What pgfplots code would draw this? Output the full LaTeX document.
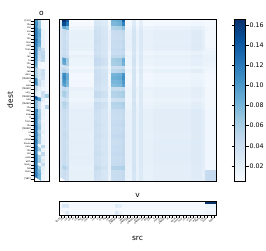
\documentclass[border=0pt]{standalone}
\usepackage{fontspec}
\setmainfont{DejaVu Sans}
\usepackage{pgfplots}
\pgfplotsset{compat=1.18}
\pgfplotsset{colormap={blues}{rgb255=(247,251,255) rgb255=(222,235,247) rgb255=(198,219,239) rgb255=(158,202,225) rgb255=(107,174,214) rgb255=(66,146,198) rgb255=(33,113,181) rgb255=(8,81,156) rgb255=(8,48,107)}}
\newcommand\tkfont{\fontsize{2.3}{2.6}\selectfont}
\newcommand\lbfont{\fontsize{7.5}{8}\selectfont}
\pgfplotsset{
  every axis title shift=0pt,
  hm/.style={scale only axis, anchor=south west, enlargelimits=false, axis on top,
    colormap name=blues, point meta min=5, point meta max=166,
    axis line style={black, line width=0.6pt},
    tick style={black, line width=0.35pt}, tick align=outside, major tick length=2.5pt,
    title style={font=\lbfont, inner sep=0pt, at={(0.5,1)}, anchor=south, yshift=3.5pt},
    label style={font=\lbfont}},
  destlabels/.style={yticklabels={{[CLS]},the,cat,sat,on,the,mat,and,then,it,ran,to,the,big,red,door,{[MASK]},it,was,{[MASK]},very,{[MASK]},and,{[MASK]},the,dog,saw,it,from,the,{[MASK]},of,a,small,house,near,the,old,park,with,many,tall,trees,.,{[SEP]}}},
  srclabels/.style={xticklabels={{[CLS]},the,cat,sat,on,the,mat,and,then,it,ran,to,the,big,red,door,{[MASK]},it,was,{[MASK]},very,{[MASK]},and,{[MASK]},the,dog,saw,it,from,the,{[MASK]},of,a,small,house,near,the,old,park,with,many,tall,trees,.,{[SEP]}}}
}
\begin{document}
\begin{tikzpicture}
\path[use as bounding box] (0,0) rectangle (266pt,250pt);
% ---------------- o ----------------
\begin{axis}[hm, at={(34pt,69pt)}, width=15pt, height=162pt,
  xmin=-0.5, xmax=3.5, ymin=-0.5, ymax=44.5, y dir=reverse,
  xtick=\empty, ytick={0,...,44}, ytick pos=left, destlabels,
  yticklabel style={font=\tkfont, inner sep=0.6pt},
  title={o}, ylabel={dest},
  ylabel style={at={(axis description cs:-1.6,0.5)}, anchor=center}]
\addplot[matrix plot*, mesh/cols=4, point meta=explicit] table[row sep=\\, x expr={mod(\coordindex,4)}, y expr={floor(\coordindex/4)}, meta=c] {
c\\
100\\ 62\\ 6\\ 5\\
106\\ 66\\ 7\\ 5\\
110\\ 70\\ 8\\ 5\\
120\\ 88\\ 14\\ 7\\
122\\ 92\\ 15\\ 7\\
118\\ 86\\ 14\\ 8\\
124\\ 90\\ 16\\ 7\\
120\\ 84\\ 14\\ 7\\
112\\ 60\\ 40\\ 8\\
110\\ 45\\ 50\\ 8\\
108\\ 40\\ 52\\ 8\\
104\\ 38\\ 48\\ 8\\
92\\ 12\\ 8\\ 6\\
88\\ 10\\ 7\\ 6\\
60\\ 28\\ 40\\ 8\\
58\\ 30\\ 42\\ 8\\
62\\ 28\\ 38\\ 7\\
110\\ 40\\ 20\\ 7\\
112\\ 42\\ 18\\ 7\\
50\\ 20\\ 10\\ 6\\
28\\ 14\\ 40\\ 12\\
24\\ 12\\ 38\\ 60\\
140\\ 100\\ 20\\ 8\\
80\\ 40\\ 10\\ 8\\
78\\ 38\\ 12\\ 52\\
110\\ 60\\ 14\\ 8\\
112\\ 62\\ 16\\ 8\\
118\\ 66\\ 12\\ 7\\
120\\ 56\\ 10\\ 7\\
116\\ 64\\ 14\\ 7\\
122\\ 70\\ 12\\ 7\\
118\\ 52\\ 18\\ 8\\
120\\ 66\\ 10\\ 7\\
116\\ 58\\ 14\\ 7\\
122\\ 62\\ 12\\ 7\\
114\\ 10\\ 50\\ 8\\
120\\ 64\\ 14\\ 7\\
112\\ 10\\ 48\\ 8\\
118\\ 60\\ 16\\ 7\\
120\\ 62\\ 24\\ 8\\
116\\ 12\\ 44\\ 8\\
120\\ 66\\ 18\\ 7\\
118\\ 80\\ 14\\ 7\\
122\\ 86\\ 12\\ 7\\
120\\ 82\\ 12\\ 7\\
};
\end{axis}
% ---------------- main ----------------
\begin{axis}[hm, at={(59pt,69pt)}, width=157pt, height=162pt,
  xmin=-0.5, xmax=44.5, ymin=-0.5, ymax=44.5, y dir=reverse,
  xtick=\empty, ytick=\empty,
  colorbar,
  colorbar style={scale only axis, at={(parent axis.north east)}, anchor=north west,
    xshift=10pt, width=11pt, axis on top,
    axis line style={black, line width=0.6pt},
    tick style={black, line width=0.35pt}, tick align=outside, major tick length=3pt,
    ytick={20,40,60,80,100,120,140,160},
    yticklabels={0.02,0.04,0.06,0.08,0.10,0.12,0.14,0.16},
    yticklabel style={font=\fontsize{6.3}{7}\selectfont, inner sep=1pt}}]
\addplot[matrix plot*, mesh/cols=45, point meta=explicit] table[row sep=\\, x expr={mod(\coordindex,45)}, y expr={floor(\coordindex/45)}, meta=c] {
c\\
28\\ 166\\ 138\\  6\\ 6\\ 6\\ 6\\ 6\\ 6\\ 6\\  30\\ 30\\ 26\\ 25\\  8\\  82\\ 84\\ 88\\ 132\\  8\\ 8\\  25\\  8\\  20\\
7\\ 7\\ 7\\  8\\ 8\\ 8\\ 8\\ 8\\  8\\ 8\\ 8\\ 8\\ 8\\ 8\\  10\\ 10\\ 10\\  8\\  8\\ 8\\ 8\\
28\\ 150\\ 122\\  7\\ 7\\ 7\\ 7\\ 7\\ 7\\ 7\\  31\\ 30\\ 27\\ 26\\  9\\  78\\ 80\\ 84\\ 115\\  9\\ 9\\  26\\  9\\  21\\
8\\ 8\\ 8\\  9\\ 9\\ 9\\ 9\\ 9\\  9\\ 9\\ 9\\ 9\\ 9\\ 9\\  11\\ 11\\ 11\\  9\\  8\\ 8\\ 8\\
30\\ 92\\ 78\\  12\\ 12\\ 12\\ 12\\ 12\\ 12\\ 12\\  36\\ 35\\ 30\\ 29\\  12\\  56\\ 58\\ 60\\ 72\\  12\\ 12\\  30\\  12\\  24\\
14\\ 14\\ 14\\  16\\ 16\\ 16\\ 16\\ 16\\  16\\ 16\\ 16\\ 16\\ 16\\ 16\\  20\\ 20\\ 20\\  16\\  10\\ 10\\ 10\\
34\\ 44\\ 38\\  18\\ 18\\ 18\\ 18\\ 18\\ 18\\ 18\\  40\\ 38\\ 33\\ 32\\  16\\  44\\ 45\\ 45\\ 50\\  16\\ 16\\  34\\  17\\  28\\
17\\ 17\\ 18\\  20\\ 20\\ 20\\ 20\\ 20\\  20\\ 20\\ 20\\ 20\\ 20\\ 20\\  24\\ 25\\ 24\\  20\\  11\\ 10\\ 10\\
33\\ 42\\ 36\\  19\\ 19\\ 19\\ 19\\ 19\\ 18\\ 18\\  39\\ 38\\ 33\\ 32\\  16\\  42\\ 43\\ 44\\ 47\\  16\\ 16\\  33\\  17\\  28\\
17\\ 17\\ 18\\  21\\ 21\\ 21\\ 21\\ 21\\  21\\ 21\\ 21\\ 21\\ 21\\ 21\\  25\\ 25\\ 25\\  20\\  10\\ 10\\ 10\\
34\\ 40\\ 35\\  19\\ 19\\ 19\\ 19\\ 19\\ 19\\ 18\\  40\\ 39\\ 34\\ 33\\  17\\  41\\ 42\\ 43\\ 46\\  17\\ 17\\  34\\  17\\  29\\
18\\ 18\\ 18\\  21\\ 21\\ 21\\ 21\\ 21\\  21\\ 21\\ 21\\ 21\\ 21\\ 21\\  25\\ 25\\ 25\\  21\\  10\\ 10\\ 10\\
35\\ 43\\ 37\\  18\\ 18\\ 18\\ 18\\ 18\\ 18\\ 18\\  41\\ 39\\ 33\\ 32\\  16\\  44\\ 44\\ 45\\ 49\\  16\\ 16\\  34\\  16\\  28\\
17\\ 17\\ 17\\  20\\ 20\\ 20\\ 20\\ 20\\  20\\ 20\\ 20\\ 20\\ 20\\ 20\\  24\\ 24\\ 24\\  20\\  10\\ 10\\ 10\\
34\\ 41\\ 36\\  19\\ 19\\ 19\\ 19\\ 19\\ 19\\ 19\\  39\\ 38\\ 33\\ 32\\  16\\  42\\ 43\\ 43\\ 47\\  17\\ 17\\  33\\  17\\  28\\
18\\ 18\\ 18\\  21\\ 21\\ 21\\ 21\\ 21\\  21\\ 21\\ 21\\ 21\\ 21\\ 21\\  25\\ 25\\ 25\\  21\\  10\\ 10\\ 10\\
33\\ 44\\ 38\\  18\\ 18\\ 18\\ 18\\ 18\\ 18\\ 18\\  40\\ 38\\ 33\\ 32\\  16\\  45\\ 45\\ 46\\ 50\\  16\\ 16\\  34\\  16\\  28\\
17\\ 17\\ 17\\  20\\ 20\\ 20\\ 20\\ 20\\  20\\ 20\\ 20\\ 20\\ 20\\ 20\\  24\\ 24\\ 24\\  20\\  12\\ 12\\ 12\\
32\\ 40\\ 35\\  12\\ 12\\ 12\\ 12\\ 12\\ 12\\ 12\\  38\\ 37\\ 32\\ 31\\  12\\  42\\ 43\\ 43\\ 46\\  12\\ 12\\  32\\  13\\  26\\
12\\ 12\\ 12\\  14\\ 14\\ 14\\ 14\\ 14\\  14\\ 14\\ 14\\ 14\\ 14\\ 14\\  17\\ 17\\ 17\\  14\\  14\\ 14\\ 14\\
34\\ 46\\ 40\\  17\\ 17\\ 17\\ 17\\ 17\\ 17\\ 17\\  42\\ 40\\ 34\\ 33\\  15\\  48\\ 48\\ 49\\ 55\\  15\\ 15\\  34\\  16\\  28\\
16\\ 16\\ 16\\  19\\ 19\\ 19\\ 19\\ 19\\  19\\ 19\\ 19\\ 19\\ 19\\ 19\\  23\\ 23\\ 23\\  19\\  16\\ 16\\ 16\\
34\\ 96\\ 62\\  14\\ 14\\ 14\\ 14\\ 14\\ 14\\ 14\\  46\\ 45\\ 40\\ 38\\  13\\  62\\ 64\\ 66\\ 86\\  13\\ 13\\  36\\  14\\  28\\
14\\ 14\\ 14\\  16\\ 16\\ 16\\ 16\\ 16\\  16\\ 16\\ 16\\ 16\\ 16\\ 16\\  20\\ 20\\ 20\\  16\\  16\\ 16\\ 16\\
34\\ 90\\ 58\\  14\\ 14\\ 14\\ 14\\ 14\\ 14\\ 14\\  45\\ 44\\ 39\\ 37\\  13\\  60\\ 62\\ 64\\ 82\\  13\\ 13\\  35\\  14\\  28\\
14\\ 14\\ 14\\  16\\ 16\\ 16\\ 16\\ 16\\  16\\ 16\\ 16\\ 16\\ 16\\ 16\\  20\\ 20\\ 20\\  16\\  15\\ 15\\ 15\\
30\\ 38\\ 34\\  10\\ 10\\ 10\\ 10\\ 10\\ 10\\ 10\\  34\\ 33\\ 28\\ 27\\  10\\  40\\ 40\\ 41\\ 44\\  10\\ 10\\  30\\  11\\  24\\
11\\ 11\\ 11\\  12\\ 12\\ 12\\ 12\\ 12\\  12\\ 12\\ 12\\ 12\\ 12\\ 12\\  15\\ 15\\ 15\\  12\\  12\\ 12\\ 12\\
34\\ 52\\ 44\\  15\\ 15\\ 15\\ 15\\ 15\\ 15\\ 15\\  40\\ 39\\ 34\\ 33\\  14\\  50\\ 50\\ 52\\ 58\\  14\\ 14\\  34\\  15\\  28\\
15\\ 15\\ 15\\  18\\ 18\\ 18\\ 18\\ 18\\  18\\ 18\\ 18\\ 18\\ 18\\ 18\\  22\\ 22\\ 22\\  18\\  11\\ 11\\ 11\\
38\\ 108\\ 84\\  9\\ 9\\ 9\\ 9\\ 9\\ 9\\ 9\\  40\\ 39\\ 36\\ 35\\  10\\  80\\ 82\\ 84\\ 102\\  10\\ 10\\  34\\  11\\  26\\
10\\ 10\\ 10\\  12\\ 12\\ 12\\ 12\\ 12\\  12\\ 12\\ 12\\ 12\\ 12\\ 12\\  15\\ 15\\ 15\\  12\\  9\\ 9\\ 9\\
38\\ 112\\ 86\\  9\\ 9\\ 9\\ 9\\ 9\\ 9\\ 9\\  41\\ 40\\ 36\\ 35\\  10\\  84\\ 85\\ 88\\ 106\\  10\\ 10\\  34\\  11\\  26\\
10\\ 10\\ 10\\  12\\ 12\\ 12\\ 12\\ 12\\  12\\ 12\\ 12\\ 12\\ 12\\ 12\\  15\\ 15\\ 15\\  12\\  9\\ 9\\ 9\\
37\\ 104\\ 80\\  10\\ 10\\ 10\\ 10\\ 10\\ 10\\ 10\\  40\\ 39\\ 35\\ 34\\  10\\  80\\ 80\\ 83\\ 100\\  10\\ 10\\  33\\  11\\  26\\
11\\ 11\\ 11\\  13\\ 13\\ 13\\ 13\\ 13\\  13\\ 13\\ 13\\ 13\\ 13\\ 13\\  16\\ 16\\ 16\\  13\\  9\\ 9\\ 9\\
37\\ 96\\ 76\\  10\\ 10\\ 10\\ 10\\ 10\\ 10\\ 10\\  39\\ 38\\ 34\\ 33\\  11\\  74\\ 76\\ 78\\ 94\\  11\\ 11\\  33\\  12\\  26\\
11\\ 11\\ 11\\  13\\ 13\\ 13\\ 13\\ 13\\  13\\ 13\\ 13\\ 13\\ 13\\ 13\\  16\\ 16\\ 16\\  13\\  9\\ 9\\ 9\\
34\\ 46\\ 40\\  17\\ 17\\ 17\\ 17\\ 17\\ 17\\ 17\\  38\\ 37\\ 32\\ 31\\  15\\  44\\ 44\\ 45\\ 48\\  15\\ 15\\  33\\  16\\  27\\
16\\ 16\\ 16\\  18\\ 18\\ 18\\ 18\\ 18\\  18\\ 18\\ 18\\ 18\\ 18\\ 18\\  22\\ 22\\ 22\\  18\\  10\\ 10\\ 10\\
34\\ 62\\ 48\\  14\\ 14\\ 14\\ 14\\ 14\\ 14\\ 14\\  46\\ 45\\ 40\\ 38\\  13\\  55\\ 56\\ 58\\ 62\\  13\\ 13\\  35\\  14\\  28\\
14\\ 14\\ 14\\  17\\ 17\\ 17\\ 17\\ 17\\  17\\ 17\\ 17\\ 17\\ 17\\ 17\\  21\\ 21\\ 21\\  17\\  10\\ 10\\ 10\\
34\\ 60\\ 46\\  14\\ 14\\ 14\\ 14\\ 14\\ 14\\ 14\\  46\\ 44\\ 39\\ 38\\  13\\  54\\ 55\\ 57\\ 60\\  13\\ 13\\  35\\  14\\  28\\
14\\ 14\\ 14\\  17\\ 17\\ 17\\ 17\\ 17\\  17\\ 17\\ 17\\ 17\\ 17\\ 17\\  21\\ 21\\ 21\\  17\\  10\\ 10\\ 10\\
30\\ 38\\ 34\\  12\\ 12\\ 12\\ 12\\ 12\\ 12\\ 12\\  34\\ 33\\ 29\\ 28\\  12\\  38\\ 39\\ 40\\ 42\\  12\\ 12\\  30\\  12\\  25\\
12\\ 12\\ 12\\  14\\ 14\\ 14\\ 14\\ 14\\  14\\ 14\\ 14\\ 14\\ 14\\ 14\\  17\\ 17\\ 17\\  14\\  10\\ 10\\ 10\\
34\\ 56\\ 46\\  16\\ 16\\ 16\\ 16\\ 16\\ 16\\ 16\\  44\\ 43\\ 38\\ 36\\  14\\  54\\ 55\\ 56\\ 60\\  14\\ 14\\  35\\  15\\  28\\
15\\ 15\\ 15\\  18\\ 18\\ 18\\ 18\\ 18\\  18\\ 18\\ 18\\ 18\\ 18\\ 18\\  22\\ 22\\ 22\\  18\\  10\\ 10\\ 10\\
34\\ 52\\ 44\\  17\\ 17\\ 17\\ 17\\ 17\\ 17\\ 17\\  43\\ 42\\ 37\\ 35\\  15\\  52\\ 52\\ 54\\ 57\\  15\\ 15\\  34\\  16\\  28\\
16\\ 16\\ 16\\  19\\ 19\\ 19\\ 19\\ 19\\  19\\ 19\\ 19\\ 19\\ 19\\ 19\\  23\\ 23\\ 23\\  19\\  10\\ 10\\ 10\\
35\\ 44\\ 38\\  21\\ 21\\ 21\\ 21\\ 21\\ 21\\ 21\\  40\\ 39\\ 33\\ 32\\  18\\  44\\ 45\\ 45\\ 48\\  18\\ 18\\  34\\  18\\  28\\
19\\ 19\\ 19\\  22\\ 22\\ 22\\ 22\\ 22\\  22\\ 22\\ 22\\ 22\\ 22\\ 22\\  26\\ 26\\ 26\\  22\\  11\\ 11\\ 11\\
35\\ 42\\ 37\\  20\\ 20\\ 20\\ 20\\ 20\\ 20\\ 20\\  39\\ 38\\ 33\\ 32\\  17\\  43\\ 44\\ 44\\ 47\\  17\\ 17\\  33\\  18\\  28\\
19\\ 19\\ 19\\  22\\ 22\\ 22\\ 22\\ 22\\  22\\ 22\\ 22\\ 22\\ 22\\ 22\\  25\\ 25\\ 25\\  22\\  11\\ 11\\ 11\\
34\\ 40\\ 36\\  20\\ 20\\ 20\\ 20\\ 20\\ 20\\ 20\\  38\\ 37\\ 33\\ 32\\  17\\  42\\ 42\\ 43\\ 46\\  17\\ 17\\  33\\  18\\  28\\
19\\ 19\\ 19\\  22\\ 22\\ 22\\ 22\\ 22\\  22\\ 22\\ 22\\ 22\\ 22\\ 22\\  25\\ 25\\ 25\\  22\\  11\\ 11\\ 11\\
35\\ 43\\ 38\\  20\\ 20\\ 20\\ 20\\ 20\\ 20\\ 20\\  40\\ 38\\ 33\\ 32\\  17\\  44\\ 44\\ 45\\ 48\\  17\\ 17\\  34\\  18\\  28\\
19\\ 19\\ 19\\  22\\ 22\\ 22\\ 22\\ 22\\  22\\ 22\\ 22\\ 22\\ 22\\ 22\\  25\\ 25\\ 25\\  22\\  11\\ 11\\ 11\\
35\\ 44\\ 38\\  20\\ 20\\ 20\\ 20\\ 20\\ 20\\ 20\\  41\\ 39\\ 34\\ 33\\  17\\  45\\ 45\\ 46\\ 49\\  17\\ 17\\  34\\  18\\  29\\
19\\ 19\\ 19\\  22\\ 22\\ 22\\ 22\\ 22\\  22\\ 22\\ 22\\ 22\\ 22\\ 22\\  26\\ 26\\ 26\\  22\\  11\\ 11\\ 11\\
34\\ 41\\ 36\\  21\\ 21\\ 21\\ 21\\ 21\\ 21\\ 21\\  39\\ 38\\ 33\\ 32\\  18\\  42\\ 43\\ 43\\ 46\\  18\\ 18\\  33\\  18\\  28\\
19\\ 19\\ 19\\  22\\ 22\\ 22\\ 22\\ 22\\  22\\ 22\\ 22\\ 22\\ 22\\ 22\\  25\\ 25\\ 25\\  22\\  11\\ 11\\ 11\\
35\\ 42\\ 37\\  20\\ 20\\ 20\\ 20\\ 20\\ 20\\ 20\\  39\\ 38\\ 33\\ 32\\  17\\  43\\ 44\\ 44\\ 47\\  17\\ 17\\  33\\  18\\  28\\
19\\ 19\\ 19\\  22\\ 22\\ 22\\ 22\\ 22\\  22\\ 22\\ 22\\ 22\\ 22\\ 22\\  25\\ 25\\ 25\\  22\\  11\\ 11\\ 11\\
35\\ 45\\ 39\\  19\\ 19\\ 19\\ 19\\ 19\\ 19\\ 19\\  41\\ 40\\ 34\\ 33\\  17\\  46\\ 46\\ 47\\ 50\\  17\\ 17\\  34\\  17\\  28\\
18\\ 18\\ 18\\  21\\ 21\\ 21\\ 21\\ 21\\  21\\ 21\\ 21\\ 21\\ 21\\ 21\\  25\\ 25\\ 25\\  21\\  11\\ 11\\ 11\\
34\\ 42\\ 37\\  20\\ 20\\ 20\\ 20\\ 20\\ 20\\ 20\\  39\\ 38\\ 33\\ 32\\  17\\  43\\ 44\\ 44\\ 47\\  17\\ 17\\  33\\  18\\  28\\
19\\ 19\\ 19\\  22\\ 22\\ 22\\ 22\\ 22\\  22\\ 22\\ 22\\ 22\\ 22\\ 22\\  25\\ 25\\ 25\\  22\\  11\\ 11\\ 11\\
35\\ 41\\ 36\\  21\\ 21\\ 21\\ 21\\ 21\\ 21\\ 21\\  38\\ 37\\ 32\\ 31\\  18\\  42\\ 42\\ 43\\ 46\\  18\\ 18\\  33\\  18\\  28\\
19\\ 19\\ 19\\  23\\ 23\\ 23\\ 23\\ 23\\  23\\ 23\\ 23\\ 23\\ 23\\ 23\\  26\\ 26\\ 26\\  23\\  11\\ 11\\ 11\\
35\\ 43\\ 38\\  20\\ 20\\ 20\\ 20\\ 20\\ 20\\ 20\\  40\\ 39\\ 33\\ 32\\  17\\  44\\ 45\\ 45\\ 48\\  17\\ 17\\  34\\  18\\  28\\
19\\ 19\\ 19\\  22\\ 22\\ 22\\ 22\\ 22\\  22\\ 22\\ 22\\ 22\\ 22\\ 22\\  25\\ 25\\ 25\\  22\\  11\\ 11\\ 11\\
34\\ 42\\ 37\\  20\\ 20\\ 20\\ 20\\ 20\\ 20\\ 20\\  39\\ 38\\ 33\\ 32\\  17\\  43\\ 44\\ 44\\ 47\\  17\\ 17\\  33\\  18\\  28\\
19\\ 19\\ 19\\  22\\ 22\\ 22\\ 22\\ 22\\  22\\ 22\\ 22\\ 22\\ 22\\ 22\\  25\\ 25\\ 25\\  22\\  11\\ 11\\ 11\\
35\\ 44\\ 38\\  20\\ 20\\ 20\\ 20\\ 20\\ 20\\ 20\\  40\\ 39\\ 34\\ 33\\  17\\  45\\ 45\\ 46\\ 49\\  17\\ 17\\  34\\  18\\  28\\
19\\ 19\\ 19\\  22\\ 22\\ 22\\ 22\\ 22\\  22\\ 22\\ 22\\ 22\\ 22\\ 22\\  25\\ 25\\ 25\\  22\\  11\\ 11\\ 11\\
34\\ 41\\ 36\\  21\\ 21\\ 21\\ 21\\ 21\\ 21\\ 21\\  38\\ 37\\ 33\\ 32\\  18\\  42\\ 43\\ 43\\ 46\\  18\\ 18\\  33\\  18\\  28\\
19\\ 19\\ 19\\  23\\ 23\\ 23\\ 23\\ 23\\  23\\ 23\\ 23\\ 23\\ 23\\ 23\\  26\\ 26\\ 26\\  23\\  11\\ 11\\ 11\\
35\\ 42\\ 37\\  20\\ 20\\ 20\\ 20\\ 20\\ 20\\ 20\\  39\\ 38\\ 33\\ 32\\  17\\  43\\ 44\\ 44\\ 47\\  17\\ 17\\  33\\  18\\  28\\
19\\ 19\\ 19\\  22\\ 22\\ 22\\ 22\\ 22\\  22\\ 22\\ 22\\ 22\\ 22\\ 22\\  25\\ 25\\ 25\\  22\\  11\\ 11\\ 11\\
35\\ 43\\ 37\\  20\\ 20\\ 20\\ 20\\ 20\\ 20\\ 20\\  40\\ 38\\ 33\\ 32\\  17\\  44\\ 44\\ 45\\ 48\\  17\\ 17\\  34\\  18\\  28\\
19\\ 19\\ 19\\  22\\ 22\\ 22\\ 22\\ 22\\  22\\ 22\\ 22\\ 22\\ 22\\ 22\\  25\\ 25\\ 25\\  22\\  11\\ 11\\ 11\\
35\\ 56\\ 44\\  18\\ 18\\ 18\\ 18\\ 18\\ 18\\ 18\\  46\\ 44\\ 36\\ 35\\  16\\  54\\ 55\\ 56\\ 58\\  16\\ 16\\  35\\  17\\  28\\
18\\ 18\\ 18\\  21\\ 21\\ 21\\ 21\\ 21\\  21\\ 21\\ 21\\ 21\\ 21\\ 21\\  24\\ 24\\ 24\\  21\\  11\\ 11\\ 11\\
35\\ 42\\ 37\\  19\\ 19\\ 19\\ 19\\ 19\\ 19\\ 19\\  39\\ 38\\ 33\\ 32\\  16\\  43\\ 44\\ 44\\ 47\\  16\\ 16\\  33\\  17\\  27\\
18\\ 18\\ 18\\  21\\ 21\\ 21\\ 21\\ 21\\  21\\ 21\\ 21\\ 21\\ 21\\ 21\\  24\\ 24\\ 24\\  21\\  44\\ 46\\ 46\\
35\\ 42\\ 37\\  19\\ 19\\ 19\\ 19\\ 19\\ 19\\ 19\\  39\\ 38\\ 33\\ 32\\  16\\  43\\ 44\\ 44\\ 47\\  16\\ 16\\  33\\  17\\  27\\
18\\ 18\\ 18\\  21\\ 21\\ 21\\ 21\\ 21\\  21\\ 21\\ 21\\ 21\\ 21\\ 21\\  24\\ 24\\ 24\\  21\\  45\\ 47\\ 47\\
34\\ 41\\ 36\\  19\\ 19\\ 19\\ 19\\ 19\\ 19\\ 19\\  38\\ 37\\ 33\\ 32\\  16\\  42\\ 43\\ 43\\ 46\\  16\\ 16\\  33\\  17\\  27\\
18\\ 18\\ 18\\  21\\ 21\\ 21\\ 21\\ 21\\  21\\ 21\\ 21\\ 21\\ 21\\ 21\\  24\\ 24\\ 24\\  21\\  44\\ 46\\ 46\\
};
\end{axis}
% ---------------- v ----------------
\begin{axis}[hm, at={(59pt,35pt)}, width=157pt, height=14pt,
  xmin=-0.5, xmax=44.5, ymin=-0.5, ymax=3.5, y dir=reverse,
  ytick=\empty, xtick={0,...,44}, xtick pos=bottom, srclabels,
  xticklabel style={rotate=45, anchor=east, font=\tkfont, inner sep=0.5pt},
  title={v}, xlabel={src},
  xlabel style={at={(axis description cs:0.5,-1.64)}, anchor=center}]
\addplot[matrix plot*, mesh/cols=45, point meta=explicit] table[row sep=\\, x expr={mod(\coordindex,45)}, y expr={floor(\coordindex/45)}, meta=c] {
c\\
8\\ 9\\ 9\\  6\\ 6\\ 6\\ 6\\ 6\\ 6\\ 6\\ 6\\ 6\\ 6\\ 6\\ 6\\  8\\ 8\\ 8\\ 8\\
6\\ 6\\ 6\\ 6\\ 6\\ 6\\ 6\\ 6\\ 6\\ 6\\  6\\ 6\\ 6\\ 6\\ 6\\ 6\\ 6\\ 6\\ 6\\ 6\\  6\\ 6\\ 6\\  166\\ 166\\ 166\\
10\\ 30\\ 28\\  9\\ 9\\ 9\\ 9\\ 9\\ 9\\ 9\\ 9\\ 9\\ 9\\ 9\\ 9\\ 9\\  24\\ 20\\
9\\ 9\\ 9\\ 9\\ 9\\ 9\\ 9\\ 9\\ 9\\ 9\\  9\\ 9\\ 9\\ 9\\ 9\\ 9\\ 9\\ 9\\ 9\\ 9\\  9\\ 9\\ 9\\ 9\\  14\\ 14\\ 14\\
7\\ 7\\ 7\\ 7\\ 7\\ 7\\ 7\\ 7\\ 7\\ 7\\  7\\ 7\\ 7\\ 7\\ 7\\ 7\\ 7\\ 7\\ 7\\ 7\\  7\\
7\\ 7\\ 7\\ 7\\ 7\\ 7\\ 7\\ 7\\ 7\\ 7\\  7\\ 7\\ 7\\ 7\\ 7\\ 7\\ 7\\ 7\\ 7\\ 7\\  7\\  10\\ 10\\ 10\\
9\\ 12\\ 26\\  8\\ 8\\ 8\\ 8\\ 8\\ 8\\ 8\\ 8\\ 8\\ 8\\ 8\\ 8\\ 8\\  28\\ 14\\
8\\ 8\\ 8\\ 8\\ 8\\ 8\\ 8\\ 8\\ 8\\ 8\\  8\\ 8\\ 8\\ 8\\ 8\\ 8\\ 8\\ 8\\ 8\\ 8\\  8\\ 8\\ 8\\ 8\\  12\\ 12\\ 12\\
};
\end{axis}
\end{tikzpicture}
\end{document}
